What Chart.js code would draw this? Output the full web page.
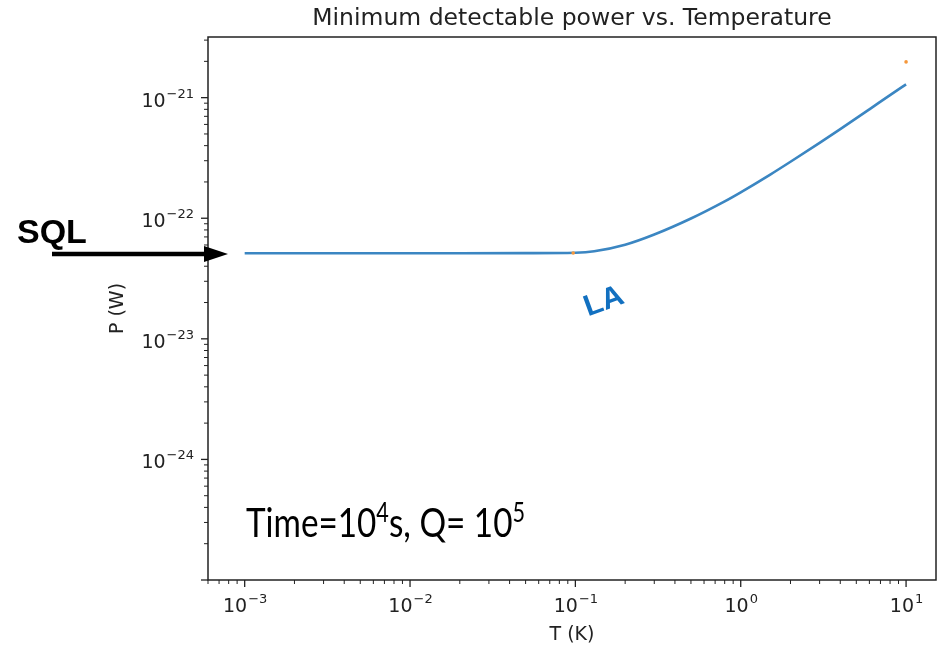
<!DOCTYPE html>
<html lang="en">
<head>
<meta charset="UTF-8">
<title>Minimum detectable power vs. Temperature</title>
<script src="https://cdn.jsdelivr.net/npm/chart.js"></script>
<style>
  html, body { margin: 0; padding: 0; background: #fff; }
</style>
</head>
<body>
<canvas id="chart" width="943" height="646"></canvas>
<script>
// temperature (K) and minimum detectable power (W)
const temps = [0.001, 0.002, 0.005, 0.01, 0.02, 0.05, 0.1, 0.13, 0.2, 0.3, 0.5, 0.8, 1, 1.5, 2, 3, 4, 6, 8, 10];
const power = [5.13e-23, 5.13e-23, 5.13e-23, 5.13e-23, 5.13e-23, 5.14e-23, 5.18e-23, 5.32e-23, 6.03e-23, 7.33e-23,
               9.95e-23, 1.38e-22, 1.64e-22, 2.29e-22, 2.94e-22, 4.22e-22, 5.48e-22, 8.0e-22, 1.05e-21, 1.29e-21];
// two stray orange marks
const markT = [0.097, 10];
const markP = [5.15e-23, 1.98e-21];

// decades that get a labelled tick
const xDecades = [-3, -2, -1, 0, 1];
const yDecades = [-24, -23, -22, -21];

const FONT = '"DejaVu Sans", sans-serif';

// draw "10^exp" like matplotlib's mathtext
function drawPow(ctx, exp, x, baseY, align) {
    const sup = (exp < 0 ? '\u2212' : '') + Math.abs(exp);
    ctx.font = '19px ' + FONT;
    const w1 = ctx.measureText('10').width;
    ctx.font = '13px ' + FONT;
    const w2 = ctx.measureText(sup).width;
    let left = align === 'right' ? x - w1 - w2 - 1 : x - (w1 + w2) / 2;
    ctx.textAlign = 'left';
    ctx.textBaseline = 'alphabetic';
    ctx.font = '19px ' + FONT;
    ctx.fillText('10', left, baseY);
    ctx.font = '13px ' + FONT;
    ctx.fillText(sup, left + w1 + 1, baseY - 9);
}

const decor = {
    id: 'decor',
    afterDraw(chart) {
        const { ctx, chartArea: a, scales: { x, y } } = chart;
        ctx.save();
        ctx.fillStyle = '#222';
        ctx.strokeStyle = '#222';

        // tick marks, major and minor
        for (let e = -5; e <= 2; e++) {
            for (let m = 1; m <= 9; m++) {
                const v = m * Math.pow(10, e);
                const len = m === 1 ? 7 : 4;
                ctx.lineWidth = m === 1 ? 1.3 : 1;
                const px = x.getPixelForValue(v);
                if (px >= a.left - 0.5 && px <= a.right + 0.5) {
                    ctx.beginPath();
                    ctx.moveTo(px, a.bottom);
                    ctx.lineTo(px, a.bottom + len);
                    ctx.stroke();
                }
            }
        }
        for (let e = -26; e <= -19; e++) {
            for (let m = 1; m <= 9; m++) {
                const v = m * Math.pow(10, e);
                const len = m === 1 ? 7 : 4;
                ctx.lineWidth = m === 1 ? 1.3 : 1;
                const py = y.getPixelForValue(v);
                if (py >= a.top - 0.5 && py <= a.bottom + 0.5) {
                    ctx.beginPath();
                    ctx.moveTo(a.left, py);
                    ctx.lineTo(a.left - len, py);
                    ctx.stroke();
                }
            }
        }

        // frame
        ctx.lineWidth = 1.5;
        ctx.strokeRect(a.left, a.top, a.right - a.left, a.bottom - a.top);

        // title, centred over the plot area
        ctx.font = '23.5px ' + FONT;
        ctx.textAlign = 'center';
        ctx.textBaseline = 'alphabetic';
        ctx.fillText('Minimum detectable power vs. Temperature', (a.left + a.right) / 2, 25);

        // tick labels
        xDecades.forEach(e => drawPow(ctx, e, x.getPixelForValue(Math.pow(10, e)), a.bottom + 32, 'center'));
        yDecades.forEach(e => drawPow(ctx, e, a.left - 14, y.getPixelForValue(Math.pow(10, e)) + 9, 'right'));

        // axis titles
        ctx.font = '19px ' + FONT;
        ctx.textAlign = 'center';
        ctx.textBaseline = 'alphabetic';
        ctx.fillText('T (K)', (a.left + a.right) / 2, a.bottom + 60);
        ctx.save();
        ctx.translate(123, (a.top + a.bottom) / 2);
        ctx.rotate(-Math.PI / 2);
        ctx.fillText('P (W)', 0, 0);
        ctx.restore();

        // SQL label and arrow
        ctx.fillStyle = '#000';
        ctx.font = 'bold 34px "Liberation Sans", Arial, sans-serif';
        ctx.textAlign = 'left';
        ctx.fillText('SQL', 17, 243);
        ctx.strokeStyle = '#000';
        ctx.lineWidth = 4.5;
        ctx.beginPath();
        ctx.moveTo(52, 254);
        ctx.lineTo(210, 254);
        ctx.stroke();
        ctx.beginPath();
        ctx.moveTo(228, 254);
        ctx.lineTo(204, 246);
        ctx.lineTo(204, 262);
        ctx.closePath();
        ctx.fill();

        // LA label
        ctx.save();
        ctx.translate(604, 302);
        ctx.rotate(-20 * Math.PI / 180);
        ctx.fillStyle = '#1270c0';
        ctx.font = 'bold 30px "Liberation Sans", Arial, sans-serif';
        ctx.textAlign = 'center';
        ctx.textBaseline = 'middle';
        ctx.fillText('LA', 0, 0);
        ctx.restore();

        // Time / Q annotation, fitted to the reference width
        const parts = [['Time=10', 40, 0], ['4', 26, -15], ['s, Q= 10', 40, 0], ['5', 26, -15]];
        let total = 0;
        parts.forEach(p => { ctx.font = p[1] + 'px Lato, sans-serif'; total += ctx.measureText(p[0]).width; });
        const sx = 279 / total;
        ctx.save();
        ctx.translate(246, 537);
        ctx.scale(sx, 1);
        ctx.fillStyle = '#000';
        ctx.textAlign = 'left';
        let cx = 0;
        parts.forEach(p => {
            ctx.font = p[1] + 'px Lato, sans-serif';
            ctx.fillText(p[0], cx, p[2]);
            cx += ctx.measureText(p[0]).width;
        });
        ctx.restore();

        ctx.restore();
    }
};

new Chart(document.getElementById('chart'), {
    type: 'line',
    data: {
        datasets: [
            {
                data: temps.map((t, i) => ({ x: t, y: power[i] })),
                borderColor: '#3b86c2',
                borderWidth: 2.6,
                pointRadius: 0,
                cubicInterpolationMode: 'monotone',
                fill: false,
                order: 2
            },
            {
                data: markT.map((t, i) => ({ x: t, y: markP[i] })),
                showLine: false,
                pointRadius: 1.8,
                pointBorderWidth: 0,
                pointBackgroundColor: '#f5973a',
                order: 1
            }
        ]
    },
    options: {
        responsive: false,
        animation: false,
        layout: { padding: { left: 0, right: 7, top: 37, bottom: 0 } },
        plugins: {
            legend: { display: false },
            tooltip: { enabled: false },
            title: { display: false }
        },
        scales: {
            x: {
                type: 'logarithmic',
                min: Math.pow(10, -3.205),
                max: Math.pow(10, 1.181),
                ticks: { display: false },
                grid: { display: false, drawTicks: false },
                border: { display: false },
                afterFit: s => { s.height = 66; }
            },
            y: {
                type: 'logarithmic',
                min: Math.pow(10, -24.973),
                max: Math.pow(10, -20.497),
                ticks: { display: false },
                grid: { display: false, drawTicks: false },
                border: { display: false },
                afterFit: s => { s.width = 208; }
            }
        }
    },
    plugins: [decor]
});
</script>
</body>
</html>
